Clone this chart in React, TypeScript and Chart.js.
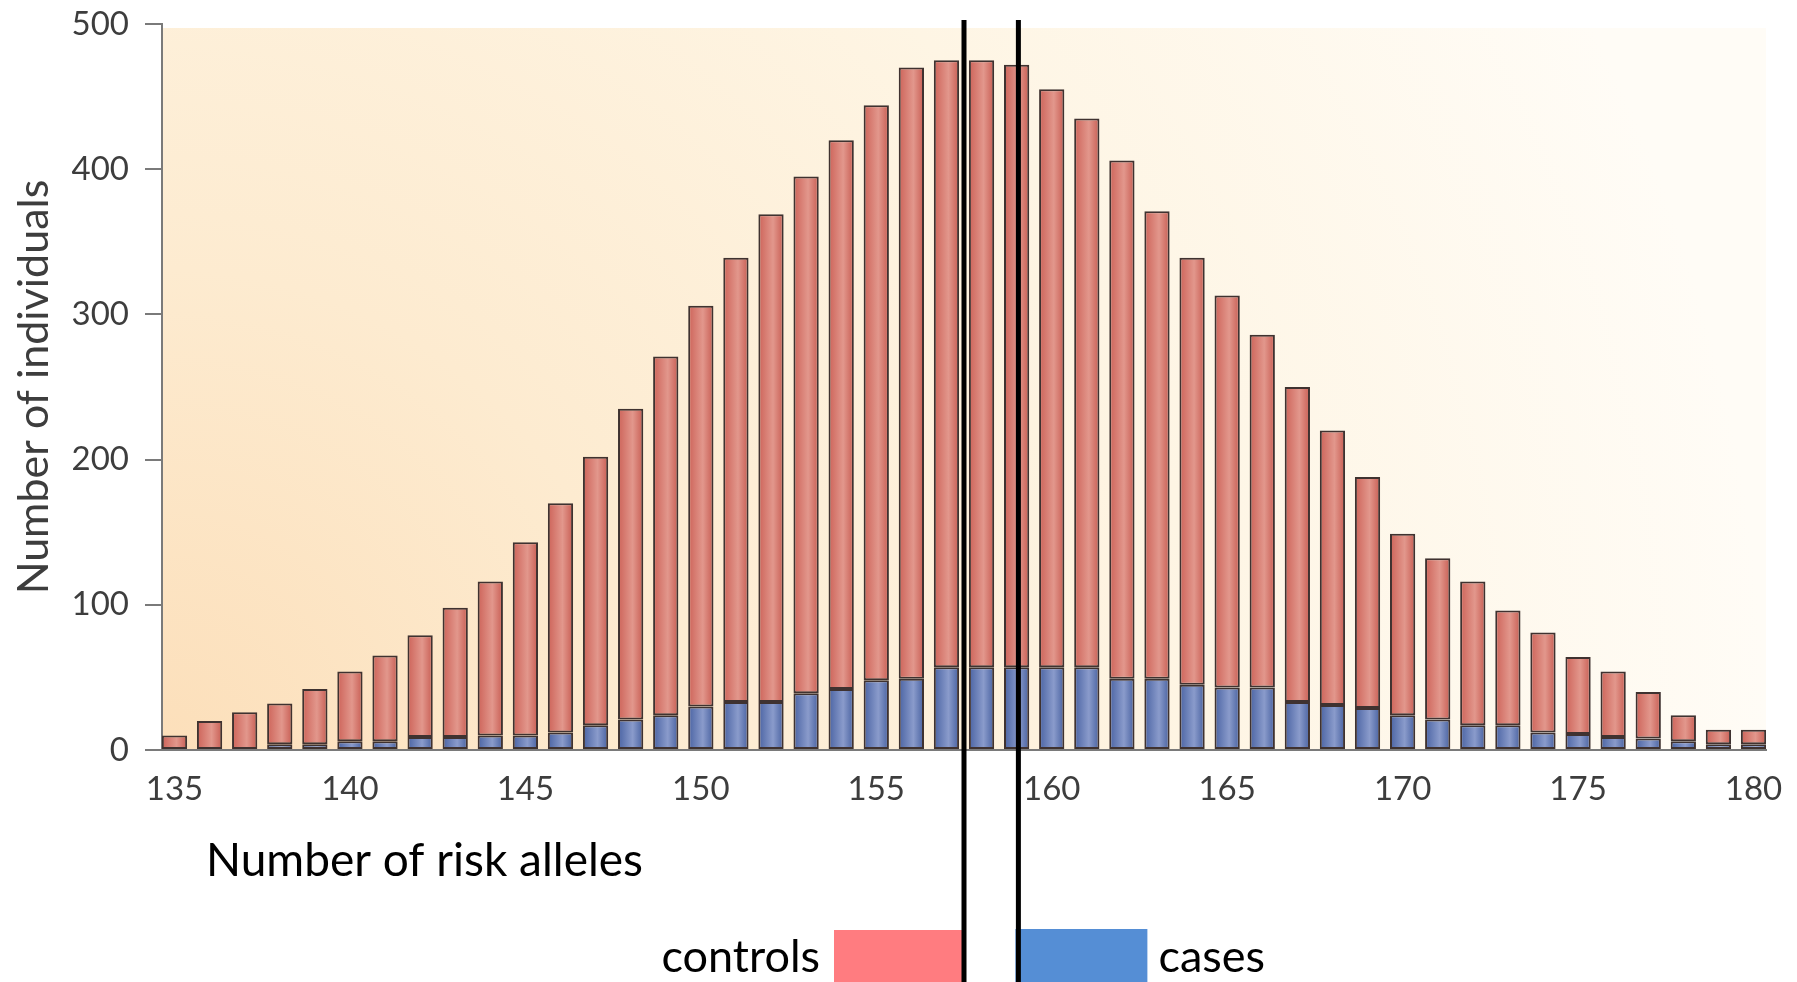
import React, { useEffect, useRef } from "react";
import { Chart, registerables } from "chart.js";

Chart.register(...registerables);

// ---- data ----
const alleles = [
  135, 136, 137, 138, 139, 140, 141, 142, 143, 144, 145, 146, 147, 148, 149, 150,
  151, 152, 153, 154, 155, 156, 157, 158, 159, 160, 161, 162, 163, 164, 165, 166,
  167, 168, 169, 170, 171, 172, 173, 174, 175, 176, 177, 178, 179, 180,
];
const cases = [
  0, 0, 0, 4, 4, 6, 6, 9, 9, 10, 10, 12, 17, 21, 24, 30,
  33, 33, 39, 42, 48, 49, 57, 57, 57, 57, 57, 49, 49, 45, 43, 43,
  33, 31, 29, 24, 21, 17, 17, 12, 11, 9, 8, 6, 4, 4,
];
const controls = [
  10, 20, 26, 28, 38, 48, 59, 70, 89, 106, 133, 158, 185, 214, 247, 276,
  306, 336, 356, 378, 396, 421, 418, 418, 415, 398, 378, 357, 322, 294, 270, 243,
  217, 189, 159, 125, 111, 99, 79, 69, 53, 45, 32, 18, 10, 10,
];
const xTickValues = [135, 140, 145, 150, 155, 160, 165, 170, 175, 180];
const yTickValues = [0, 100, 200, 300, 400, 500];
const markerLines = [157.5, 159.05];
const seriesNames = ["cases", "controls"];
const legendLabels = ["controls", "cases"];
const xTitle = "Number of risk alleles";
const yTitle = "Number of individuals";

const RED = { base: "#CD6359", light: "#E2978C", dark: "#C85D53" };
const BLUE = { base: "#4A63A3", light: "#8A9BCB", dark: "#4861A0" };

function barFill(c: any, col: { base: string; light: string; dark: string }) {
  const chart = c.chart;
  const xs = chart.scales && chart.scales.x;
  if (!xs || c.type !== "data") return col.base;
  const cx = xs.getPixelForValue(alleles[c.dataIndex]);
  const unit = Math.abs(xs.getPixelForValue(1) - xs.getPixelForValue(0));
  const half = (unit * 0.72) / 2;
  if (!isFinite(cx) || !isFinite(half) || half <= 0) return col.base;
  const g = chart.ctx.createLinearGradient(cx - half, 0, cx + half, 0);
  g.addColorStop(0, col.base);
  g.addColorStop(0.58, col.light);
  g.addColorStop(1, col.dark);
  return g;
}

const decorPlugin = {
  id: "decor",
  beforeDraw(chart: any) {
    const { ctx, chartArea: a } = chart;
    if (!a) return;
    ctx.save();
    const g = ctx.createRadialGradient(a.left, a.bottom, 0, a.left, a.bottom, a.right - a.left);
    g.addColorStop(0, "#FCDFBA");
    g.addColorStop(0.3, "#FDEBD0");
    g.addColorStop(0.65, "#FEF5E4");
    g.addColorStop(1, "#FFFCF6");
    ctx.fillStyle = g;
    ctx.fillRect(a.left, a.top + 4, a.right - a.left, a.bottom - a.top - 4);
    ctx.restore();
  },
  afterDraw(chart: any) {
    const { ctx } = chart;
    const xs = chart.scales.x;
    const [x1, x2] = markerLines.map((v) => xs.getPixelForValue(v));
    ctx.save();
    // x axis title
    ctx.fillStyle = "#000";
    ctx.font = "46px Lato";
    ctx.textBaseline = "alphabetic";
    ctx.textAlign = "left";
    ctx.fillText(xTitle, 206, 876);
    // legend
    const boxW = 132;
    ctx.fillStyle = "#FF7C80";
    ctx.fillRect(x1 - boxW + 2, 930, boxW, 60);
    ctx.fillStyle = "#558ED5";
    ctx.fillRect(x2 - 3, 929, boxW, 60);
    ctx.fillStyle = "#000";
    ctx.font = "45px Lato";
    ctx.textAlign = "right";
    ctx.fillText(legendLabels[0], x1 - boxW + 2 - 14, 972);
    ctx.textAlign = "left";
    ctx.fillText(legendLabels[1], x2 - 3 + boxW + 11, 972);
    // marker lines
    ctx.strokeStyle = "#000";
    ctx.lineWidth = 5;
    ctx.beginPath();
    [x1, x2].forEach((x) => {
      ctx.moveTo(x, 20);
      ctx.lineTo(x, chart.height);
    });
    ctx.stroke();
    ctx.restore();
  },
};

export default function App() {
  const ref = useRef<HTMLCanvasElement | null>(null);

  useEffect(() => {
    document.body.style.margin = "0";
    const canvas = ref.current;
    if (!canvas) return;
    const tickFont = { family: "Lato", size: 33 };
    const chart = new Chart(canvas, {
      type: "bar",
      data: {
        datasets: [
          {
            label: seriesNames[0],
            data: alleles.map((a, i) => ({ x: a, y: cases[i] })),
            backgroundColor: (c: any) => barFill(c, BLUE),
            borderColor: "#3f3230",
            borderWidth: 2,
            borderSkipped: false,
            barPercentage: 0.9,
            categoryPercentage: 0.8,
          },
          {
            label: seriesNames[1],
            data: alleles.map((a, i) => ({ x: a, y: controls[i] })),
            backgroundColor: (c: any) => barFill(c, RED),
            borderColor: "#3f3230",
            borderWidth: 2,
            borderSkipped: false,
            barPercentage: 0.9,
            categoryPercentage: 0.8,
          },
        ],
      },
      options: {
        responsive: false,
        maintainAspectRatio: false,
        animation: false,
        devicePixelRatio: 1,
        layout: { padding: { top: 24, right: 31, left: 0, bottom: 0 } },
        plugins: {
          legend: { display: false },
          tooltip: { enabled: false },
          title: { display: false },
        },
        scales: {
          x: {
            type: "linear",
            stacked: true,
            offset: false,
            min: 134.644,
            max: 180.356,
            afterFit: (s: any) => {
              s.height = 232;
              s.paddingLeft = 0;
              s.paddingRight = 0;
            },
            afterBuildTicks: (s: any) => {
              s.ticks = xTickValues.map((v) => ({ value: v }));
            },
            grid: { display: false, offset: false },
            border: { display: true, color: "#7a7a7a", width: 2 },
            ticks: {
              font: tickFont,
              color: "#3d3d3d",
              padding: 12,
              maxRotation: 0,
              autoSkip: false,
              callback: (v: any) => String(v),
            },
          },
          y: {
            type: "linear",
            stacked: true,
            min: 0,
            max: 500,
            afterFit: (s: any) => {
              s.width = 162;
              s.paddingTop = 0;
              s.paddingBottom = 0;
            },
            afterBuildTicks: (s: any) => {
              s.ticks = yTickValues.map((v) => ({ value: v }));
            },
            grid: {
              display: true,
              drawOnChartArea: false,
              drawTicks: true,
              tickLength: 17,
              color: "#7a7a7a",
              lineWidth: 2,
            },
            border: { display: true, color: "#7a7a7a", width: 2 },
            ticks: {
              font: tickFont,
              color: "#3d3d3d",
              padding: 16,
              callback: (v: any) => String(v),
            },
            title: {
              display: true,
              text: yTitle,
              font: { family: "Lato", size: 43 },
              color: "#3d3d3d",
              padding: { top: 8, bottom: 0 },
            },
          },
        },
      },
      plugins: [decorPlugin],
    } as any);
    return () => chart.destroy();
  }, []);

  return (
    <canvas
      ref={ref}
      width={1797}
      height={982}
      style={{ display: "block", width: 1797, height: 982 }}
    />
  );
}
